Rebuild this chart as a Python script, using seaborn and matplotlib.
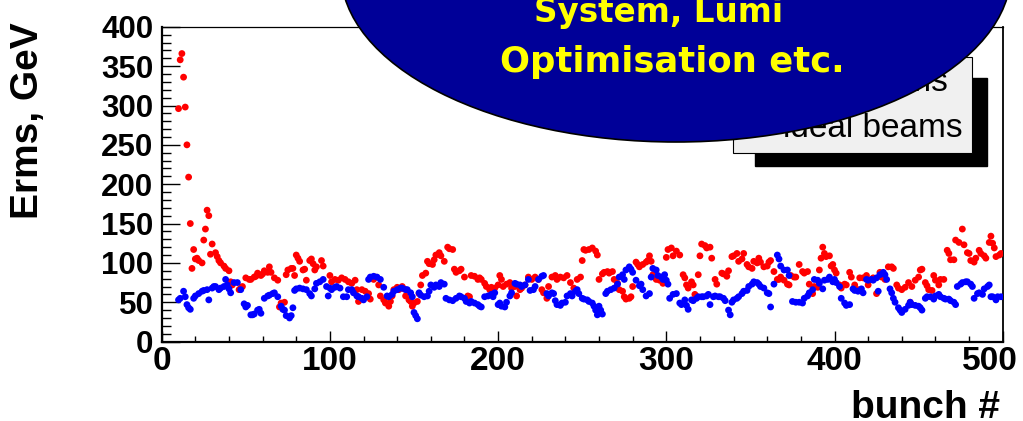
import numpy as np
import pandas as pd
import matplotlib
matplotlib.use("Agg")
import matplotlib.pyplot as plt
from matplotlib.patches import Ellipse, Rectangle
from matplotlib.ticker import MultipleLocator, FuncFormatter
import seaborn as sns

# ---- per-bunch energy spread, real beams ----
real_bunch = [10, 11, 12, 13, 14, 15, 16, 17, 18, 19, 20, 21, 22, 24, 25, 26, 27, 28, 29, 30,
              32, 33, 34, 35, 37, 38, 40, 41, 42, 46, 47, 48, 50, 52, 53, 55, 56, 57, 59, 60,
              61, 63, 64, 65, 67, 69, 70, 71, 73, 74, 75, 77, 78, 79, 80, 81, 82, 84, 85, 86,
              88, 89, 90, 91, 92, 95, 96, 100,
              101, 103, 105, 107, 109, 111, 113, 115, 116, 117, 119, 121, 123, 124, 126, 127, 129, 130, 132, 133,
              135, 136, 137, 138, 140, 141, 143, 144, 145, 147, 148, 149, 150, 152, 153, 154, 155, 157, 158, 159,
              161, 162, 163, 165, 166, 168, 170, 171, 173, 174, 175, 177, 178, 180, 182, 183, 184, 186, 188, 189,
              190, 192, 193, 195, 196, 198,
              200, 201, 202, 203, 205, 207, 208, 210, 211, 213, 214, 216, 218, 220, 222, 224, 226, 227, 229, 230,
              232, 234, 235, 237, 239, 241, 243, 245, 247, 249, 250, 251, 252, 254, 256, 258, 259, 260, 262, 263,
              265, 266, 268, 269, 271, 272, 274, 275, 276, 278, 279, 280, 282, 283, 284, 286, 288, 289, 290, 291,
              292, 294, 296, 298, 300,
              301, 303, 304, 306, 308, 310, 311, 312, 313, 315, 316, 317, 319, 320, 321, 323, 324, 326, 327, 329,
              330, 333, 334, 336, 337, 339, 340, 342, 343, 345, 346, 348, 349, 351, 352, 354, 355, 356, 358, 360,
              361, 362, 364, 366, 367, 368, 370, 372, 373, 374, 376, 377, 379, 381, 382, 384, 385, 387, 388, 390,
              391, 392, 393, 394, 395, 397, 398, 399,
              400, 401, 403, 404, 406, 407, 409, 410, 412, 414, 415, 417, 419, 420, 422, 423, 425, 427, 428, 430,
              432, 434, 435, 437, 438, 440, 442, 444, 445, 446, 448, 450, 451, 452, 454, 455, 456, 458, 459, 460,
              462, 463, 465, 467, 468, 469, 471, 472, 474, 476, 477, 479, 480, 481, 483, 484, 486, 487, 489, 490,
              492, 493, 494, 495, 496, 498, 499]
real_erms = [296, 358, 366, 336, 298, 250, 209, 150, 93, 117, 105, 106, 103, 100, 129, 143, 167, 160, 111, 124,
             113, 108, 103, 100, 96, 93, 90, 76, 72, 66, 68, 70, 81, 79, 79, 82, 83, 87, 84, 86,
             90, 88, 95, 88, 81, 78, 44, 49, 50, 85, 91, 93, 93, 84, 110, 106, 102, 91, 92, 78,
             103, 105, 99, 91, 95, 103, 96, 84,
             76, 79, 78, 81, 79, 76, 74, 78, 66, 51, 66, 64, 61, 54, 79, 82, 72, 58, 53, 49,
             45, 51, 58, 66, 69, 66, 70, 67, 58, 53, 51, 45, 49, 51, 61, 72, 84, 87, 102, 99,
             98, 104, 110, 113, 109, 102, 120, 118, 117, 92, 88, 90, 92, 82, 58, 57, 84, 83, 79, 81,
             79, 74, 70, 66, 69, 68,
             72, 84, 79, 70, 73, 75, 68, 70, 58, 66, 68, 72, 82, 79, 82, 79, 66, 62, 55, 70,
             82, 84, 79, 82, 81, 84, 75, 68, 79, 82, 103, 117, 116, 117, 119, 115, 110, 79, 86, 88,
             89, 87, 89, 79, 74, 66, 64, 57, 54, 55, 57, 70, 101, 98, 95, 98, 101, 103, 109, 102,
             85, 79, 78, 74, 107,
             117, 119, 109, 115, 110, 85, 81, 72, 68, 76, 72, 60, 85, 109, 124, 122, 119, 120, 106, 79,
             73, 87, 86, 83, 90, 108, 109, 112, 102, 105, 112, 98, 95, 93, 102, 100, 106, 101, 95, 96,
             101, 103, 89, 79, 79, 82, 78, 73, 72, 84, 82, 82, 98, 89, 87, 89, 73, 61, 70, 69,
             91, 106, 120, 112, 108, 109, 96, 98,
             91, 87, 72, 68, 73, 72, 88, 82, 72, 66, 81, 81, 84, 72, 79, 81, 61, 88, 82, 79,
             95, 95, 93, 72, 68, 66, 69, 75, 50, 70, 78, 82, 91, 92, 75, 71, 66, 65, 84, 78,
             72, 79, 79, 116, 112, 104, 104, 129, 126, 143, 123, 113, 112, 103, 101, 106, 116, 112, 109, 106,
             126, 134, 125, 119, 108, 110, 112]

# ---- per-bunch energy spread, ideal beams ----
ideal_bunch = [10, 11, 13, 14, 15, 16, 17, 19, 20, 22, 24, 25, 27, 28, 30, 31, 32, 34, 35, 37,
               38, 39, 40, 41, 43, 45, 47, 49, 50, 51, 53, 54, 55, 57, 58, 59, 61, 63, 64, 66,
               67, 69, 71, 72, 73, 74, 76, 77, 78, 79, 80, 82, 84, 86, 88, 89, 91, 92, 94, 96,
               98, 99, 100,
               101, 103, 104, 106, 108, 110, 111, 113, 114, 116, 117, 119, 120, 122, 123, 124, 126, 128, 130, 132,
               134, 135, 137, 138, 140, 142, 143, 145, 146, 148, 149, 150, 151, 152, 153, 154, 156, 158, 159, 160,
               162, 163, 165, 166, 168, 169, 171, 173, 175, 177, 178, 180, 181, 183, 184, 186, 188, 189, 190, 192,
               194, 196, 197, 198, 200,
               201, 202, 204, 205, 207, 208, 210, 211, 213, 214, 216, 218, 219, 221, 222, 224, 226, 227, 229, 230,
               232, 233, 234, 235, 237, 238, 240, 241, 243, 244, 246, 247, 248, 250, 251, 253, 254, 256, 257, 258,
               259, 260, 261, 262, 264, 265, 267, 269, 271, 272, 274, 275, 276, 278, 279, 280, 282, 284, 285, 286,
               288, 290, 291, 292, 294, 295, 297, 298, 299, 300,
               301, 302, 304, 306, 308, 309, 311, 312, 313, 315, 316, 318, 319, 321, 322, 324, 325, 326, 328, 329,
               331, 332, 334, 335, 337, 338, 339, 340, 342, 343, 345, 346, 348, 349, 351, 352, 354, 355, 356, 358,
               360, 361, 362, 364, 366, 367, 368, 370, 372, 373, 375, 377, 379, 381, 382, 384, 385, 387, 388, 390,
               391, 393, 394, 396, 397, 399,
               400, 401, 403, 404, 406, 407, 409, 411, 412, 414, 416, 417, 419, 420, 422, 423, 425, 426, 427, 429,
               430, 431, 433, 434, 435, 436, 438, 439, 440, 442, 444, 445, 446, 448, 450, 451, 452, 454, 455, 457,
               459, 460, 462, 463, 465, 466, 468, 469, 471, 472, 473, 475, 476, 478, 479, 481, 482, 483, 485, 486,
               488, 489, 491, 492, 493, 494, 496, 497, 499]
ideal_erms = [53, 55, 64, 57, 47, 43, 41, 55, 58, 61, 64, 65, 66, 53, 68, 70, 70, 66, 68, 70,
              79, 72, 67, 62, 75, 75, 66, 48, 44, 46, 34, 34, 35, 40, 41, 36, 55, 58, 59, 61,
              62, 57, 45, 41, 40, 33, 30, 33, 43, 65, 67, 68, 67, 66, 61, 58, 67, 74, 76, 79,
              70, 58, 68,
              66, 69, 70, 68, 57, 57, 66, 66, 62, 58, 57, 55, 53, 57, 79, 82, 83, 82, 79, 69,
              58, 57, 60, 64, 66, 68, 68, 66, 66, 62, 57, 37, 33, 29, 62, 59, 57, 58, 64, 72,
              69, 72, 70, 75, 73, 55, 53, 52, 55, 58, 57, 55, 51, 49, 51, 49, 47, 45, 44, 57,
              58, 60, 57, 62, 47,
              49, 45, 44, 50, 58, 62, 74, 73, 72, 70, 72, 79, 65, 66, 70, 79, 83, 84, 61, 58,
              62, 61, 52, 47, 46, 49, 50, 58, 61, 58, 64, 66, 61, 55, 54, 53, 51, 49, 45, 40,
              34, 45, 40, 35, 61, 64, 66, 68, 73, 82, 85, 79, 91, 95, 92, 88, 78, 71, 73, 66,
              58, 61, 82, 93, 91, 84, 82, 79, 85, 78,
              73, 55, 60, 61, 49, 47, 53, 46, 41, 53, 52, 55, 57, 57, 57, 58, 60, 47, 57, 58,
              57, 57, 55, 52, 40, 34, 50, 53, 55, 57, 61, 64, 65, 70, 73, 76, 75, 73, 70, 68,
              62, 61, 44, 73, 110, 105, 96, 91, 91, 84, 51, 50, 50, 49, 55, 58, 62, 66, 79, 78,
              74, 67, 78, 79, 82, 76,
              79, 75, 70, 55, 49, 46, 47, 67, 65, 64, 67, 62, 79, 78, 79, 78, 81, 64, 85, 88,
              85, 79, 67, 62, 55, 50, 43, 40, 37, 41, 46, 50, 47, 46, 45, 43, 40, 55, 57, 57,
              54, 58, 60, 57, 55, 54, 54, 52, 50, 47, 70, 73, 75, 76, 76, 73, 70, 55, 61, 62,
              60, 67, 70, 72, 57, 57, 53, 57, 57]

series = ["real beams", "ideal beams"]
df = pd.concat([
    pd.DataFrame({"bunch": real_bunch, "erms": real_erms, "beams": series[0]}),
    pd.DataFrame({"bunch": ideal_bunch, "erms": ideal_erms, "beams": series[1]}),
], ignore_index=True)

sns.set_style("ticks")
plt.rcParams["font.family"] = ["Liberation Sans", "DejaVu Sans"]
plt.rcParams.update({"text.color": "black", "axes.labelcolor": "black",
                     "xtick.color": "black", "ytick.color": "black",
                     "axes.edgecolor": "black"})

W, H = 1023, 421
X_MAX = 500
fig = plt.figure(figsize=(W / 100, H / 100), dpi=100)
ax = fig.add_axes([161.7 / W, 1 - 341.6 / H, 841 / W, 314.8 / H])

sns.scatterplot(data=df, x="bunch", y="erms", hue="beams", hue_order=series,
                palette={"real beams": "#ff0000", "ideal beams": "#0000ff"},
                s=24, linewidth=0, legend=False, ax=ax, zorder=3)

ax.set_xlim(0, X_MAX)
ax.set_ylim(0, 400)
ax.set_xlabel("")
ax.set_ylabel("")
ax.xaxis.set_major_locator(MultipleLocator(100))
ax.xaxis.set_minor_locator(MultipleLocator(20))
ax.yaxis.set_major_locator(MultipleLocator(50))
ax.yaxis.set_minor_locator(MultipleLocator(10))
# the label at the right end is drawn separately, nudged inside the canvas
ax.xaxis.set_major_formatter(FuncFormatter(lambda v, p: "" if v >= X_MAX else f"{v:.0f}"))

X_LABEL_PT = 24
X_PAD = 3.5
ax.tick_params(axis="y", which="major", direction="in", length=13, width=1.0,
               labelsize=22.5, pad=6, right=False)
ax.tick_params(axis="y", which="minor", direction="in", length=6.5, width=1.0, right=False)
ax.tick_params(axis="x", which="major", direction="in", length=8, width=1.0,
               labelsize=X_LABEL_PT, pad=X_PAD, top=False)
ax.tick_params(axis="x", which="minor", direction="in", length=4, width=1.0, top=False)
for lab in ax.get_xticklabels() + ax.get_yticklabels():
    lab.set_fontweight("bold")
ax.annotate(f"{X_MAX}", xy=(X_MAX, 0), xycoords=("data", "axes fraction"),
            xytext=(-9, -X_PAD), textcoords="offset points", ha="center", va="top",
            fontsize=X_LABEL_PT, fontweight="bold", annotation_clip=False)

for side, lw in (("left", 1.6), ("bottom", 1.6), ("right", 1.3), ("top", 0.9)):
    ax.spines[side].set_visible(True)
    ax.spines[side].set_linewidth(lw)
    ax.spines[side].set_color("black")

# axis titles
fig.text(28.5 / W, 1 - 22 / H, "Erms, GeV", rotation=90, ha="center", va="top",
         fontsize=28, fontweight="bold")
fig.text(1000 / W, 1 - 418 / H, "bunch #", ha="right", va="baseline",
         fontsize=28, fontweight="bold")

# legend box with drop shadow
fig.patches.append(Rectangle((755 / W, 1 - 166 / H), 232 / W, 88 / H,
                             transform=fig.transFigure, facecolor="black",
                             edgecolor="black", zorder=5))
fig.patches.append(Rectangle((733 / W, 1 - 153 / H), 239 / W, 96 / H,
                             transform=fig.transFigure, facecolor="#f0f0f0",
                             edgecolor="black", linewidth=0.8, zorder=6))
legend_colors = ["#ff0000", "#0000ff"]
for name, col, base in zip(series, legend_colors, (91, 137)):
    fig.text(783 / W, 1 - base / H, name, ha="left", va="baseline",
             fontsize=24, color="black", zorder=7)
    fig.lines.append(plt.Line2D([748 / W], [1 - (base - 12) / H], marker="o",
                                markersize=5, color=col, linestyle="none",
                                transform=fig.transFigure, zorder=7))

# callout ellipse
fig.patches.append(Ellipse((676 / W, 1 + 28 / H), 670 / W, 340 / H,
                           transform=fig.transFigure, facecolor="#000098",
                           edgecolor="black", linewidth=1.2, zorder=10))
fig.text(659 / W, 1 - 22 / H, "System, Lumi", ha="center", va="baseline",
         fontsize=23.5, fontweight="bold", color="#ffff00",
         family=["DejaVu Sans"], zorder=11)
fig.text(672 / W, 1 - 72 / H, "Optimisation etc.", ha="center", va="baseline",
         fontsize=25.5, fontweight="bold", color="#ffff00",
         family=["DejaVu Sans"], zorder=11)

fig.savefig("out.png", dpi=100)
